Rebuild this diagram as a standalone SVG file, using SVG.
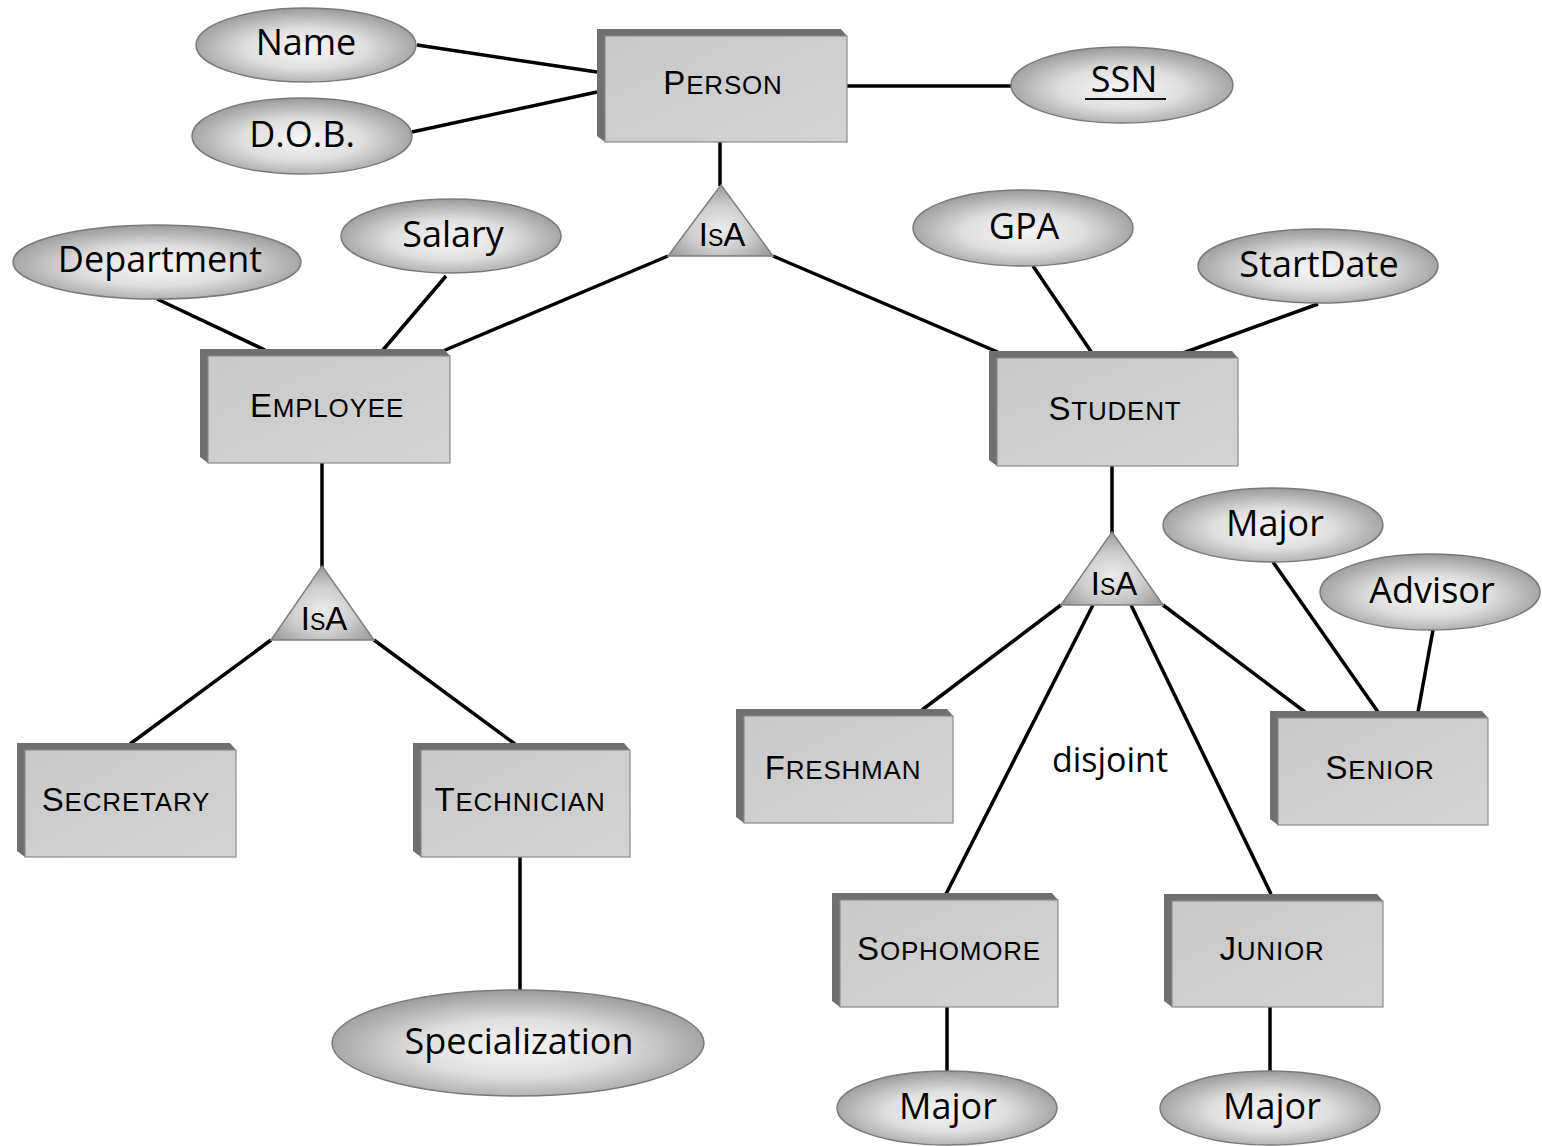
<svg xmlns="http://www.w3.org/2000/svg" width="1542" height="1146" viewBox="0 0 1542 1146">
<defs>
<radialGradient id="eg" cx="50%" cy="55%" r="55%">
<stop offset="0" stop-color="#f6f6f6"/>
<stop offset="0.5" stop-color="#dedede"/>
<stop offset="1" stop-color="#9a9a9a"/>
</radialGradient>
<radialGradient id="tg" cx="50%" cy="60%" r="60%">
<stop offset="0" stop-color="#ebebeb"/>
<stop offset="0.5" stop-color="#cfcfcf"/>
<stop offset="1" stop-color="#9a9a9a"/>
</radialGradient>
<linearGradient id="bg" x1="0" y1="0" x2="1" y2="1">
<stop offset="0" stop-color="#c9c9c9"/>
<stop offset="1" stop-color="#d3d3d3"/>
</linearGradient>
</defs>
<style>
.ell{fill:url(#eg);stroke:#7a7a7a;stroke-width:1.5}
.tri{fill:url(#tg);stroke:#808080;stroke-width:1.5}
.face{fill:url(#bg);stroke:#8c8c8c;stroke-width:1.2}
.side{fill:#6f6f6f}
.at{font-family:"Open Sans","Noto Sans",sans-serif;font-size:36px;font-weight:500;fill:#000;text-anchor:middle}
.bt{font-family:"Liberation Sans",Arial,sans-serif;font-size:26px;fill:#000;text-anchor:middle;letter-spacing:0.8px}
.bt .b{font-size:33px}
.isa{font-family:"Liberation Sans",Arial,sans-serif;font-size:33px;fill:#000;text-anchor:middle;font-variant:small-caps}
.ln{stroke:#000;stroke-width:3.5;fill:none;stroke-linecap:butt}
</style>
<rect width="1542" height="1146" fill="#fff"/>
<g id="connectors" class="ln">
<line x1="417" y1="45" x2="597" y2="72"/>
<line x1="412" y1="132" x2="597" y2="92"/>
<line x1="847" y1="86" x2="1011" y2="86"/>
<line x1="720" y1="142" x2="720" y2="186"/>
<line x1="668" y1="256" x2="443" y2="351"/>
<line x1="773" y1="256" x2="1000" y2="353"/>
<line x1="157" y1="299" x2="265" y2="350"/>
<line x1="446" y1="276" x2="383" y2="350"/>
<line x1="1033" y1="266" x2="1092" y2="353"/>
<line x1="1318" y1="304" x2="1183" y2="353"/>
<line x1="322" y1="463" x2="322" y2="567"/>
<line x1="271" y1="640" x2="130" y2="744"/>
<line x1="374" y1="640" x2="515" y2="744"/>
<line x1="520" y1="857" x2="520" y2="991"/>
<line x1="1112" y1="466" x2="1112" y2="533"/>
<line x1="1061" y1="605" x2="922" y2="710"/>
<line x1="1093" y1="605" x2="946" y2="894"/>
<line x1="1131" y1="605" x2="1271" y2="894"/>
<line x1="1163" y1="605" x2="1305" y2="712"/>
<line x1="1273" y1="562" x2="1378" y2="712"/>
<line x1="1433" y1="630" x2="1418" y2="712"/>
<line x1="947" y1="1007" x2="947" y2="1071"/>
<line x1="1270" y1="1007" x2="1270" y2="1071"/>
</g>
<g id="person">
<polygon class="side" points="597,29 841,29 847,36 605,36 605,142 597,136"/>
<rect class="face" x="605" y="36" width="242" height="106"/>
<text class="bt" x="723" y="94"><tspan class="b">P</tspan>ERSON</text>
</g>
<g id="employee">
<polygon class="side" points="200,349 444,349 450,356 208,356 208,463 200,457"/>
<rect class="face" x="208" y="356" width="242" height="107"/>
<text class="bt" x="327" y="417"><tspan class="b">E</tspan>MPLOYEE</text>
</g>
<g id="student">
<polygon class="side" points="989,351 1232,351 1238,358 997,358 997,466 989,460"/>
<rect class="face" x="997" y="358" width="241" height="108"/>
<text class="bt" x="1115" y="420"><tspan class="b">S</tspan>TUDENT</text>
</g>
<g id="secretary">
<polygon class="side" points="17,743 230,743 236,750 25,750 25,857 17,851"/>
<rect class="face" x="25" y="750" width="211" height="107"/>
<text class="bt" x="126" y="811"><tspan class="b">S</tspan>ECRETARY</text>
</g>
<g id="technician">
<polygon class="side" points="413,743 624,743 630,750 421,750 421,857 413,851"/>
<rect class="face" x="421" y="750" width="209" height="107"/>
<text class="bt" x="520" y="811"><tspan class="b">T</tspan>ECHNICIAN</text>
</g>
<g id="freshman">
<polygon class="side" points="736,709 947,709 953,716 744,716 744,823 736,817"/>
<rect class="face" x="744" y="716" width="209" height="107"/>
<text class="bt" x="843" y="779"><tspan class="b">F</tspan>RESHMAN</text>
</g>
<g id="senior">
<polygon class="side" points="1270,711 1482,711 1488,718 1278,718 1278,825 1270,819"/>
<rect class="face" x="1278" y="718" width="210" height="107"/>
<text class="bt" x="1380" y="779"><tspan class="b">S</tspan>ENIOR</text>
</g>
<g id="sophomore">
<polygon class="side" points="832,893 1052,893 1058,900 840,900 840,1007 832,1001"/>
<rect class="face" x="840" y="900" width="218" height="107"/>
<text class="bt" x="949" y="960"><tspan class="b">S</tspan>OPHOMORE</text>
</g>
<g id="junior">
<polygon class="side" points="1164,894 1377,894 1383,901 1172,901 1172,1007 1164,1001"/>
<rect class="face" x="1172" y="901" width="211" height="106"/>
<text class="bt" x="1272" y="960"><tspan class="b">J</tspan>UNIOR</text>
</g>
<g id="isa-person">
<polygon class="tri" points="721,185 773,256 668,256"/>
<text class="isa" x="722" y="246">IsA</text>
</g>
<g id="isa-employee">
<polygon class="tri" points="322,566 374,640 271,640"/>
<text class="isa" x="324" y="630">IsA</text>
</g>
<g id="isa-student">
<polygon class="tri" points="1112,532 1163,605 1061,605"/>
<text class="isa" x="1114" y="595">IsA</text>
</g>
<g id="attr-name"><ellipse class="ell" cx="306" cy="45" rx="110" ry="37"/><text class="at" x="306" y="55">Name</text></g>
<g id="attr-dob"><ellipse class="ell" cx="302" cy="136" rx="110" ry="38"/><text class="at" x="302" y="147">D.O.B.</text></g>
<g id="attr-ssn"><ellipse class="ell" cx="1122" cy="85" rx="111" ry="38"/><text class="at" x="1124" y="92">SSN</text><line x1="1085" y1="99" x2="1166" y2="99" stroke="#111" stroke-width="1.8"/></g>
<g id="attr-department"><ellipse class="ell" cx="157" cy="262" rx="144" ry="37"/><text class="at" x="160" y="272">Department</text></g>
<g id="attr-salary"><ellipse class="ell" cx="451" cy="236" rx="110" ry="37"/><text class="at" x="453" y="247">Salary</text></g>
<g id="attr-gpa"><ellipse class="ell" cx="1023" cy="228" rx="110" ry="38"/><text class="at" x="1024" y="239">GPA</text></g>
<g id="attr-startdate"><ellipse class="ell" cx="1318" cy="266" rx="120" ry="37"/><text class="at" x="1319" y="277">StartDate</text></g>
<g id="attr-senior-major"><ellipse class="ell" cx="1273" cy="525" rx="110" ry="37"/><text class="at" x="1275" y="536">Major</text></g>
<g id="attr-advisor"><ellipse class="ell" cx="1430" cy="592" rx="110" ry="38"/><text class="at" x="1432" y="603">Advisor</text></g>
<g id="attr-specialization"><ellipse class="ell" cx="518" cy="1043" rx="186" ry="53"/><text class="at" x="519" y="1054">Specialization</text></g>
<g id="attr-soph-major"><ellipse class="ell" cx="947" cy="1108" rx="110" ry="37"/><text class="at" x="948" y="1119">Major</text></g>
<g id="attr-junior-major"><ellipse class="ell" cx="1270" cy="1108" rx="110" ry="37"/><text class="at" x="1272" y="1119">Major</text></g>
<text id="disjoint" class="at" x="1110" y="772" style="font-size:34px">disjoint</text>
</svg>
